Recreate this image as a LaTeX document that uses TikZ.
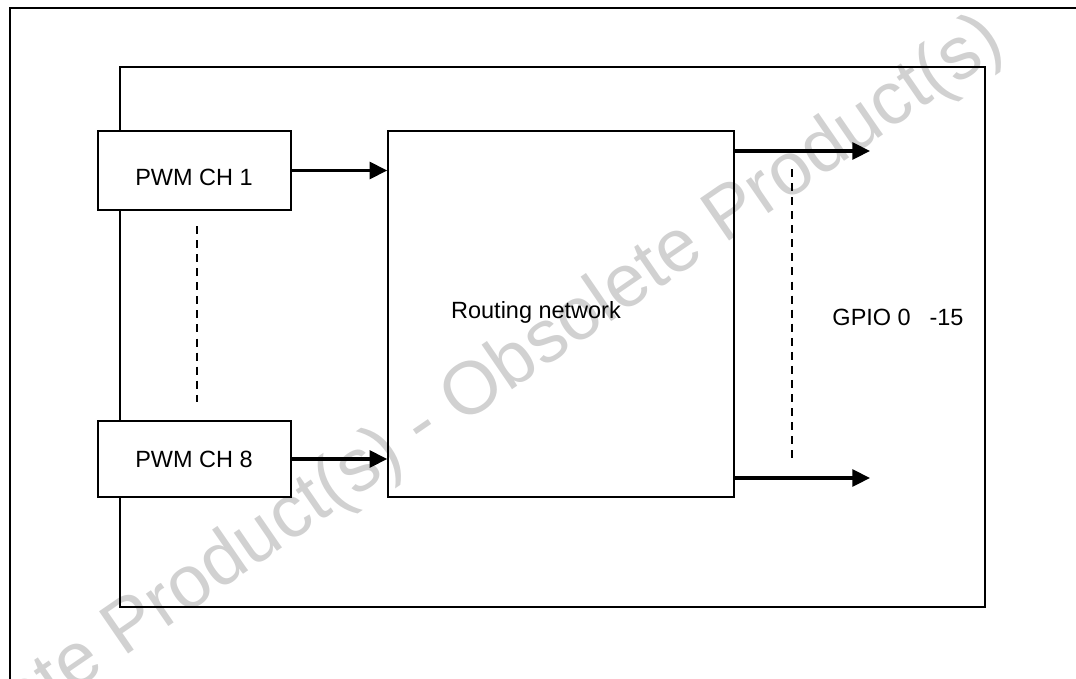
\documentclass[tikz,border=0pt]{standalone}
\usepackage{fontspec}
\setmainfont{Liberation Sans}
\usetikzlibrary{arrows.meta,positioning,fit}

\tikzset{
  blk/.style={draw,fill=white,line width=1.1pt,inner sep=0pt},
  frm/.style={draw,line width=1.6pt,inner sep=0pt},
  sig/.style={line width=2.2pt,-{Triangle[length=12.5pt,width=12pt]}},
  dots/.style={line width=1.8pt,dash pattern=on 5.7pt off 4.3pt},
}

\begin{document}
\begin{tikzpicture}[x=0.025cm,y=-0.025cm,font=\fontsize{16.7}{20}\selectfont]
  \useasboundingbox (0,0) rectangle (1076,678);
  \clip (0,0) rectangle (1076,678);
  % watermark
  \node[rotate=34.5,text=black!18,font=\fontsize{53}{58}\selectfont] (wmark) at (423,428)
    {Obsolete Product(s) - Obsolete Product(s)};
  % frames
  \draw[line width=1.6pt] (10,700) |- (1100,8);
  \node[frm,fit={(120,67) (985,607)}] (chip) {};
  % blocks
  \node[blk,fit={(98,131) (291,210)}] (ch1) {};
  \node[blk,fit={(98,421) (291,497)}] (ch8) {};
  \node[blk,fill=none,fit={(388,131) (734,497)}] (route) {};
  \node (ch1txt) at (194,177) {PWM CH 1};
  \node (ch8txt) at (194,459) {PWM CH 8};
  \node (routetxt) at (536,312) {Routing network};
  \node (gpiotxt) at (898,317) {GPIO 0\hspace{0.8em}-15};
  % inputs
  \draw[sig] (ch1.east) -- (ch1.east -| route.west);
  \draw[sig] (ch8.east) -- (ch8.east -| route.west);
  \draw[dots] (197,226) -- (197,402);
  % outputs
  \coordinate (gpa) at (870,151);
  \coordinate (gpb) at (870,478);
  \draw[sig] (gpa -| route.east) -- (gpa);
  \draw[sig] (gpb -| route.east) -- (gpb);
  \draw[dots] (792,169) -- (792,458);
\end{tikzpicture}
\end{document}
